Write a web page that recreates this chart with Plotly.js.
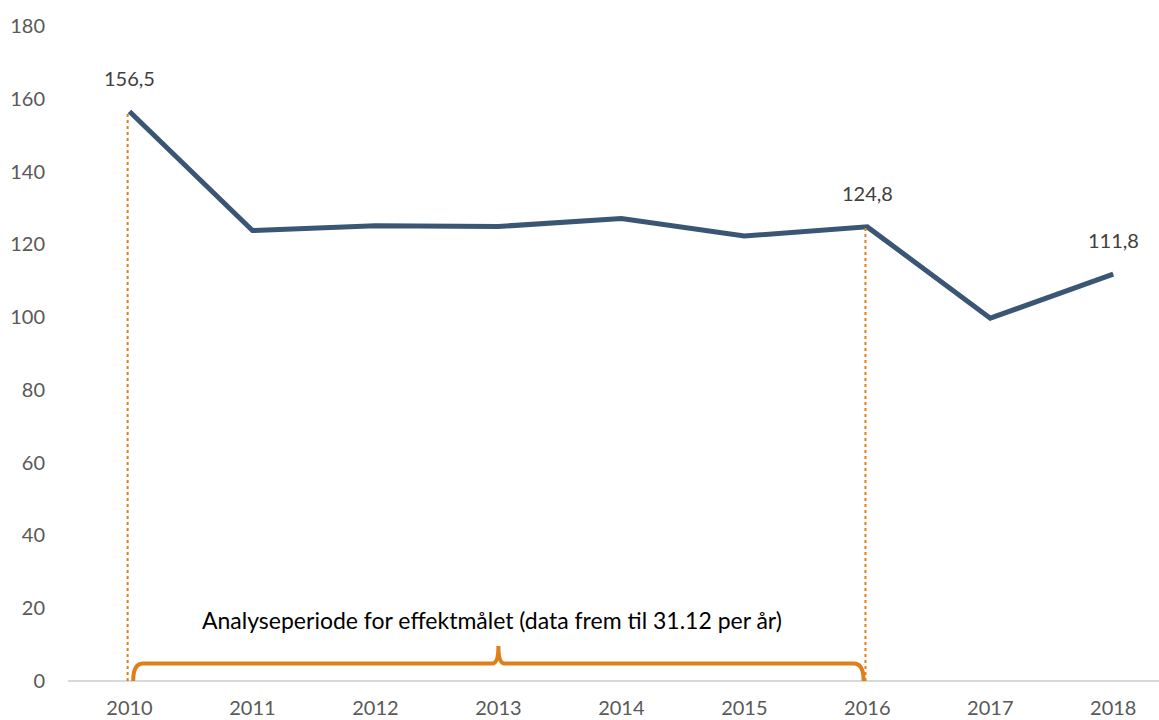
<!DOCTYPE html>
<html><head><meta charset="utf-8">
<script src="https://cdn.plot.ly/plotly-3.0.1.min.js"></script>
<style>body{margin:0;background:#fff}#c{width:1159px;height:720px}</style>
</head><body><div id="c"></div>
<script>
const years = [2010, 2011, 2012, 2013, 2014, 2015, 2016, 2017, 2018];
const values = [156.5, 123.8, 125.1, 124.9, 127.1, 122.3, 124.8, 99.7, 111.8];
const labelledYears = [2010, 2016, 2018];
const periodStart = 2010, periodEnd = 2016;
const periodLabel = 'Analyseperiode for effektmålet (data frem til 31.12 per år)';
const yTicks = [0, 20, 40, 60, 80, 100, 120, 140, 160, 180];

const orange = '#E07F17';
const fontFam = 'Lato, Open Sans, sans-serif';
const fmt = v => v.toFixed(1).replace('.', ',');
const valAt = y => values[years.indexOf(y)];

const annotations = labelledYears.map(y => ({
  x: y, y: valAt(y), xref: 'x', yref: 'y', text: fmt(valAt(y)),
  showarrow: false, yshift: 34, font: {family: fontFam, size: 20, color: '#404040'}
}));
const mid = (periodStart + periodEnd) / 2;
annotations.push({
  x: mid, y: 16.8, xref: 'x', yref: 'y', text: periodLabel, showarrow: false, xshift: -6,
  font: {family: fontFam, size: 23, color: '#000'}
});

const bh = 4.8, bt = 9.6, a = periodStart + 0.03, b = periodEnd - 0.03;
const bracketPath = `M ${a},0 Q ${a},${bh} ${a+0.08},${bh} L ${mid-0.05},${bh} Q ${mid},${bh} ${mid},${bt} Q ${mid},${bh} ${mid+0.05},${bh} L ${b-0.08},${bh} Q ${b},${bh} ${b},0`;

const shapes = [periodStart, periodEnd].map(y => ({
  type: 'line', xref: 'x', yref: 'y', x0: y - 0.015, x1: y - 0.015, y0: 0, y1: valAt(y),
  line: {color: orange, width: 2, dash: 'dot'}
}));
shapes.push({type: 'path', xref: 'x', yref: 'y', path: bracketPath, line: {color: orange, width: 4}});

const trace = {
  x: years, y: values, type: 'scatter', mode: 'lines',
  line: {color: '#3B5675', width: 5}, hoverinfo: 'skip'
};

const layout = {
  width: 1159, height: 720,
  margin: {l: 68, r: 0, t: 26, b: 39},
  paper_bgcolor: '#fff', plot_bgcolor: '#fff',
  showlegend: false,
  xaxis: {
    range: [2009.5, 2018.372], tickvals: years, ticktext: years.map(String),
    showgrid: false, zeroline: false, showline: false, ticks: 'outside', ticklen: 9, tickcolor: 'rgba(0,0,0,0)',
    tickfont: {family: fontFam, size: 20, color: '#595959'}
  },
  yaxis: {
    range: [0, 180], tickvals: yTicks, showgrid: false,
    zeroline: true, zerolinecolor: '#D9D9D9', zerolinewidth: 1.5,
    showline: false, ticks: 'outside', ticklen: 18, tickcolor: 'rgba(0,0,0,0)',
    tickfont: {family: fontFam, size: 20, color: '#595959'}
  },
  annotations, shapes
};
Plotly.newPlot('c', [trace], layout, {displayModeBar: false, staticPlot: true});
</script></body></html>
